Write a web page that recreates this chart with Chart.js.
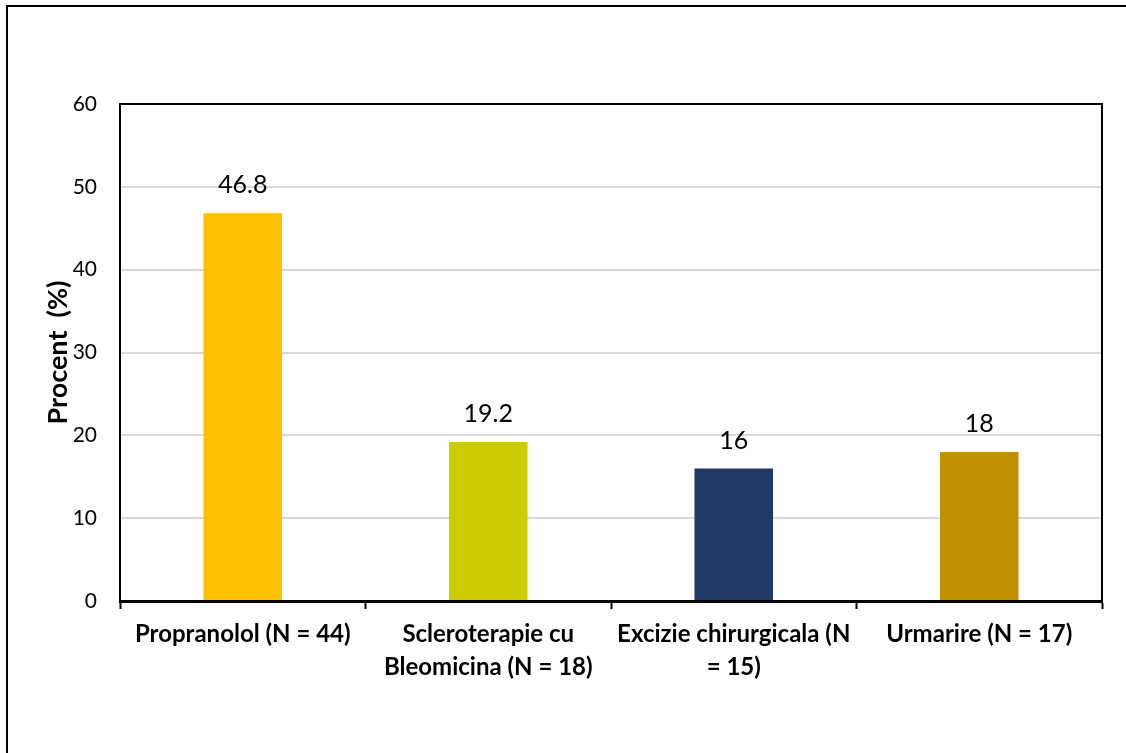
<!DOCTYPE html>
<html>
<head>
<meta charset="utf-8">
<script src="https://cdn.jsdelivr.net/npm/chart.js@4"></script>
<style>
  html, body { margin: 0; padding: 0; background: #fff; }
  #wrap { width: 1126px; height: 753px; position: relative; }
</style>
</head>
<body>
<div id="wrap"><canvas id="myChart" width="1126" height="753"></canvas></div>
<script>
var categories = [
  'Propranolol (N = 44)',
  ['Scleroterapie cu', 'Bleomicina (N = 18)'],
  ['Excizie chirurgicala (N', '= 15)'],
  'Urmarire (N = 17)'
];
var percents = [46.8, 19.2, 16, 18];
var valueLabels = ['46.8', '19.2', '16', '18'];
var barColors = ['#FFC000', '#CCCC00', '#203864', '#BF9000'];

var FONT = 'Lato, "Liberation Sans", sans-serif';

document.addEventListener('DOMContentLoaded', function () {
  var ctx = document.getElementById('myChart').getContext('2d');

  // outer frame, plot border, value labels
  var decor = {
    id: 'decor',
    beforeDraw: function (chart) {
      var c = chart.ctx;
      c.save();
      c.fillStyle = '#fff';
      c.fillRect(0, 0, chart.width, chart.height);
      c.strokeStyle = '#000';
      c.lineWidth = 2;
      c.strokeRect(7, 6, 1300, 900);
      c.restore();
    },
    afterDraw: function (chart) {
      var c = chart.ctx, a = chart.chartArea;
      c.save();
      c.strokeStyle = '#000';
      c.lineWidth = 2;
      c.beginPath();
      c.moveTo(a.left, a.top);
      c.lineTo(a.right, a.top);
      c.lineTo(a.right, a.bottom);
      c.stroke();
      c.fillStyle = '#000';
      c.font = '25px ' + FONT;
      c.textAlign = 'center';
      c.textBaseline = 'middle';
      chart.getDatasetMeta(0).data.forEach(function (bar, i) {
        c.fillText(valueLabels[i], bar.x, bar.y - 28);
      });
      c.restore();
    }
  };

  new Chart(ctx, {
    type: 'bar',
    data: {
      labels: categories,
      datasets: [{
        data: percents,
        backgroundColor: barColors,
        categoryPercentage: 1,
        barPercentage: 0.32
      }]
    },
    options: {
      responsive: false,
      animation: false,
      layout: { padding: { top: 104, right: 24, left: 0, bottom: 0 } },
      plugins: { legend: { display: false }, tooltip: { enabled: false } },
      scales: {
        x: {
          offset: true,
          grid: {
            offset: true,
            drawOnChartArea: false,
            drawTicks: true,
            tickLength: 8,
            tickWidth: 2,
            tickColor: '#000'
          },
          border: { color: '#000', width: 3 },
          ticks: {
            color: '#000',
            maxRotation: 0,
            autoSkip: false,
            padding: 9,
            font: { family: FONT, size: 24, weight: 'bold', lineHeight: 1.375 }
          },
          afterFit: function (scale) { scale.height = 753 - 601; }
        },
        y: {
          min: 0,
          max: 60,
          ticks: {
            stepSize: 10,
            color: '#000',
            padding: 23,
            font: { family: FONT, size: 21 }
          },
          grid: { color: '#d9d9d9', lineWidth: 2, drawTicks: false },
          border: { color: '#000', width: 2 },
          title: {
            display: true,
            text: 'Procent  (%)',
            color: '#000',
            font: { family: FONT, size: 27, weight: 'bold', lineHeight: 1.2 },
            padding: { top: 42, bottom: 0 }
          },
          afterFit: function (scale) { scale.width = 120; }
        }
      }
    },
    plugins: [decor]
  });
});
</script>
</body>
</html>
